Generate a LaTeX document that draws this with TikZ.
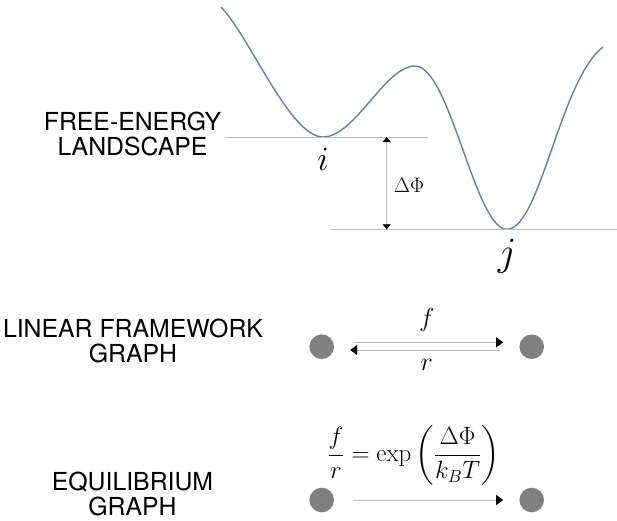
\documentclass[tikz,border=0pt]{standalone}
\usepackage{fix-cm}
\usepackage{amsmath}
\usepackage{fontspec}
\setsansfont{TeX Gyre Heros}
\usetikzlibrary{positioning,arrows.meta}

\definecolor{landblue}{RGB}{108,126,160}
\definecolor{levelgray}{RGB}{190,190,190}
\definecolor{sitegray}{RGB}{128,128,128}

\tikzset{
  caption/.style={align=center, inner sep=0pt, font=\sffamily\fontsize{24.8}{24.5}\selectfont},
  landscape/.style={draw=landblue, line width=1.4pt},
  level/.style={draw=levelgray, line width=0.8pt},
  site/.style={circle, fill=sitegray, minimum size=24.6pt, inner sep=0pt},
  rate/.style={draw=levelgray, line width=0.8pt, -{Triangle[black,length=7pt,width=10pt]}},
  gap/.style={draw=levelgray, line width=0.8pt, {Triangle[black,length=5pt,width=8pt]}-{Triangle[black,length=5pt,width=8pt]}},
  lbl/.style={inner sep=0pt},
}

\begin{document}
\begin{tikzpicture}[x=1pt, y=-1pt]

  \useasboundingbox (0,0) rectangle (617,520);

  % Captions
  \node[caption] (fe)  at (132.5,134) {FREE-ENERGY\\LANDSCAPE}; %
  \node[caption] (lfg) at (133,341)   {LINEAR FRAMEWORK\\GRAPH}; %
  \node[caption] (eqg) at (132.5,494) {EQUILIBRIUM\\GRAPH}; %

  % Landscape
  \coordinate (i)  at (323,137); %
  \coordinate (ij) at (415,66); %
  \coordinate (j)  at (507,229.3); %
  \coordinate (gx) at (386.7,0); %
  \coordinate (gm) at (386.7,185); %

  \draw[landscape] (221,7) .. controls (250,37) and (290,137) .. (i)
    .. controls (355,137) and (385,66) .. (ij)
    .. controls (450,66) and (475,229.3) .. (j)
    .. controls (540,229.3) and (560,80) .. (603,47); %

  \draw[level] ([xshift=-98pt]i) -- ([xshift=105pt]i); %
  \draw[level] ([xshift=-176pt]j) -- ([xshift=110pt]j); %
  \draw[gap] (i -| gx) -- (j -| gx); %

  \node[lbl, below=11pt of i, font=\fontsize{34}{34}\selectfont] (i-l) {$i$}; %
  \node[lbl, below=10pt of j, font=\fontsize{40}{40}\selectfont] (j-l) {$j$}; %
  \node[lbl, right=7pt of gm, font=\fontsize{21}{21}\selectfont] (dphi) {$\Delta\Phi$}; %

  % Linear framework graph
  \node[site] (li) at (321.7,346.7) {}; %
  \node[site, right=185pt of li, on grid] (lj) {}; %
  \draw[rate, shorten <=19pt, shorten >=16pt] ([yshift=4.4pt]li.east) -- ([yshift=4.4pt]lj.west)
    node[lbl, midway, above=10pt, font=\fontsize{26}{26}\selectfont] (f) {$f$}; %
  \draw[rate, shorten <=19pt, shorten >=16pt] ([yshift=-3.3pt]lj.west) -- ([yshift=-3.3pt]li.east)
    node[lbl, midway, below=9pt, font=\fontsize{26}{26}\selectfont] (r) {$r$}; %

  % Equilibrium graph
  \node[site] (ei) at (321.7,500) {}; %
  \node[site, right=185pt of ei, on grid] (ej) {}; %
  \draw[rate, shorten <=19pt, shorten >=16pt] (ei) -- (ej); %
  \node[lbl, font=\fontsize{25}{25}\selectfont] (eq) at (413.5,455)
    {$\displaystyle \frac{f}{r} = \exp\left(\frac{\Delta\Phi}{k_BT}\right)$}; %

\end{tikzpicture}
\end{document}
